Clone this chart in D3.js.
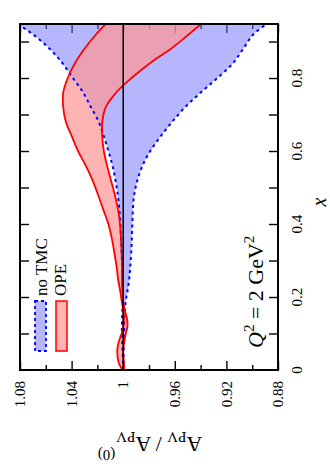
<!DOCTYPE html>
<html><head><meta charset="utf-8">
<script src="https://cdn.jsdelivr.net/npm/d3@7"></script>
<style>body{margin:0;background:#fff}svg{display:block}text{font-family:"Liberation Serif","Times New Roman",serif;fill:#000}</style>
</head><body>
<svg id="c" width="330" height="470"></svg>
<script>
// Bjorken x grid (vertical axis in the picture)
const xVals = [0,0.02,0.05,0.07,0.1,0.12,0.14,0.16,0.19,0.22,0.25,0.28,0.32,0.36,0.4,0.44,0.48,0.52,0.56,0.6,0.64,0.68,0.72,0.76,0.8,0.84,0.88,0.92,0.95];
// "no TMC" band (blue)
const blueHi = [1.0,1.0002,1.0005,1.0007,1.001,1.001,1.0009,1.0007,1.0002,1.0002,1.0005,1.0008,1.0012,1.0017,1.0022,1.003,1.0042,1.006,1.0083,1.0115,1.015,1.019,1.025,1.031,1.039,1.047,1.057,1.07,1.083];
const blueLo = [1.0,0.9998,0.9996,0.9995,0.9993,0.9992,0.9991,0.9988,0.998,0.9965,0.9953,0.9946,0.9938,0.9933,0.9929,0.9925,0.9915,0.989,0.985,0.979,0.971,0.962,0.952,0.94,0.927,0.915,0.907,0.899,0.888];
// "OPE" band (red)
const redHi = [1.0005,1.0035,1.0046,1.004,1.0012,0.9998,0.9994,0.9998,1.0012,1.0025,1.004,1.005,1.0068,1.0088,1.0115,1.0155,1.0195,1.0238,1.029,1.035,1.0398,1.0445,1.0465,1.0465,1.043,1.0375,1.03,1.021,1.013];
const redLo = [0.9993,0.9995,1.0,0.9995,0.998,0.9967,0.997,0.9985,1.0003,1.0007,1.0009,1.0009,1.0012,1.0017,1.0025,1.004,1.0065,1.0095,1.0125,1.015,1.0163,1.0162,1.0135,1.0055,0.9935,0.9795,0.963,0.949,0.939];
// ticks
const ratioMajor = [1.08,1.04,1.0,0.96,0.92,0.88];
const ratioMajorLabels = ["1.08","1.04","1","0.96","0.92","0.88"];
const ratioMinor = [1.06,1.02,0.98,0.94,0.90];
const xTicks = [0.1,0.2,0.3,0.4,0.5,0.6,0.7,0.8,0.9];
const xTickLabelVals = [0,0.2,0.4,0.6,0.8];
const xTickLabels = ["0","0.2","0.4","0.6","0.8"];

const L=20,R=278,T=24,B=370;
const rs = d3.scaleLinear().domain([1.08,0.88]).range([L,R]);
const ys = d3.scaleLinear().domain([0,0.948]).range([B,T]);
const svg = d3.select("#c");

svg.append("defs").append("clipPath").attr("id","clip").append("rect")
  .attr("x",L).attr("y",T).attr("width",R-L).attr("height",B-T);

function styleAxis(g){ g.select(".domain").remove(); g.selectAll(".tick line").attr("stroke","#000").attr("stroke-width",1.4); g.selectAll(".tick text").remove(); }
// ratio ticks (bottom & top, pointing inward)
svg.append("g").attr("transform",`translate(0,${B})`).call(d3.axisTop(rs).tickValues(ratioMajor).tickSize(9)).call(styleAxis);
svg.append("g").attr("transform",`translate(0,${B})`).call(d3.axisTop(rs).tickValues(ratioMinor).tickSize(5)).call(styleAxis);
svg.append("g").attr("transform",`translate(0,${T})`).call(d3.axisBottom(rs).tickValues(ratioMajor).tickSize(9)).call(styleAxis);
svg.append("g").attr("transform",`translate(0,${T})`).call(d3.axisBottom(rs).tickValues(ratioMinor).tickSize(5)).call(styleAxis);
// x ticks (left & right)
svg.append("g").attr("transform",`translate(${L},0)`).call(d3.axisRight(ys).tickValues(xTicks).tickSize(9)).call(styleAxis);
svg.append("g").attr("transform",`translate(${R},0)`).call(d3.axisLeft(ys).tickValues(xTicks).tickSize(9)).call(styleAxis);

const data = xVals.map((x,i)=>({x, bh:blueHi[i], bl:blueLo[i], rh:redHi[i], rl:redLo[i]}));
const curve = d3.curveCatmullRom.alpha(0.5);
const plot = svg.append("g").attr("clip-path","url(#clip)");

const blueFill = "rgba(115,115,255,0.52)";
const redFill = "rgba(255,150,150,0.72)";
plot.append("path").datum(data).attr("fill",blueFill)
  .attr("d", d3.area().curve(curve).y(d=>ys(d.x)).x0(d=>rs(d.bh)).x1(d=>rs(d.bl)));
plot.append("path").datum(data).attr("fill",redFill)
  .attr("d", d3.area().curve(curve).y(d=>ys(d.x)).x0(d=>rs(d.rh)).x1(d=>rs(d.rl)));

const lineOf = key => d3.line().curve(curve).y(d=>ys(d.x)).x(d=>rs(d[key]));
["bh","bl"].forEach(k=>plot.append("path").datum(data).attr("fill","none").attr("stroke","#0000ff")
  .attr("stroke-width",2).attr("stroke-dasharray","3,3.5").attr("d",lineOf(k)));
["rh","rl"].forEach(k=>plot.append("path").datum(data).attr("fill","none").attr("stroke","#ff0000")
  .attr("stroke-width",1.8).attr("d",lineOf(k)));

// reference line at ratio 1
svg.append("line").attr("x1",rs(1)).attr("x2",rs(1)).attr("y1",ys(0)).attr("y2",T)
  .attr("stroke","#000").attr("stroke-width",1.5);

// frame
svg.append("rect").attr("x",L).attr("y",T).attr("width",R-L).attr("height",B-T)
  .attr("fill","none").attr("stroke","#000").attr("stroke-width",2);

// ratio tick labels (rotated)
ratioMajor.forEach((v,i)=>{
  svg.append("text").attr("transform",`translate(${rs(v)},381) rotate(-90)`)
    .attr("text-anchor","end").attr("dy","0.35em").attr("font-size",15).text(ratioMajorLabels[i]);
});
// x tick labels (rotated)
xTickLabelVals.forEach((v,i)=>{
  svg.append("text").attr("transform",`translate(302,${ys(v)}) rotate(-90)`)
    .attr("text-anchor","middle").attr("font-size",15).text(xTickLabels[i]);
});
// x axis title
svg.append("text").attr("transform",`translate(326,${ys(0.46)}) rotate(-90)`)
  .attr("text-anchor","middle").attr("font-size",20).attr("font-style","italic").text("x");

// ratio axis title (upside down)
const yt = svg.append("text").attr("transform","translate(150,437) rotate(180)")
  .attr("text-anchor","middle").attr("font-size",22);
yt.append("tspan").text("A");
yt.append("tspan").attr("font-size",15).attr("dy",5).text("PV");
yt.append("tspan").attr("dy",-5).text(" / A");
yt.append("tspan").attr("font-size",15).attr("dy",5).text("PV");
yt.append("tspan").attr("font-size",15).attr("dy",-18).attr("dx",1).text("(0)");

// Q^2 annotation
const q = svg.append("text").attr("transform","translate(263,348) rotate(-90)").attr("font-size",22);
q.append("tspan").attr("font-style","italic").text("Q");
q.append("tspan").attr("font-size",15).attr("dy",-9).text("2");
q.append("tspan").attr("dy",9).text(" = 2 GeV");
q.append("tspan").attr("font-size",15).attr("dy",-9).text("2");

// legend
svg.append("rect").attr("x",35).attr("y",301).attr("width",11).attr("height",50)
  .attr("fill",blueFill).attr("stroke","#0000ff").attr("stroke-width",1.8).attr("stroke-dasharray","3,3");
svg.append("rect").attr("x",56).attr("y",301).attr("width",11).attr("height",50)
  .attr("fill",redFill).attr("stroke","#ff0000").attr("stroke-width",1.5);
svg.append("text").attr("transform","translate(47,296) rotate(-90)").attr("font-size",17).text("no TMC");
svg.append("text").attr("transform","translate(66,296) rotate(-90)").attr("font-size",17).text("OPE");
</script>
</body></html>
